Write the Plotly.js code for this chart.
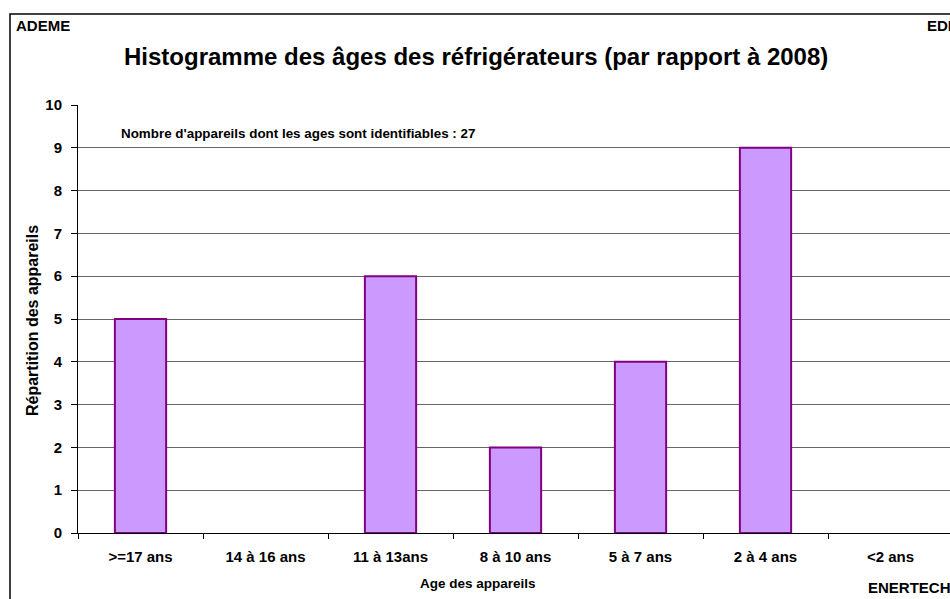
<!DOCTYPE html>
<html>
<head>
<meta charset="utf-8">
<script src="https://cdn.plot.ly/plotly-3.0.1.min.js"></script>
<style>
  html, body { margin: 0; padding: 0; overflow: hidden; background: #fff; }
</style>
</head>
<body>
<div id="graphe"></div>
<script>
// données
let classesAge = [">=17 ans", "14 à 16 ans", "11 à 13ans", "8 à 10 ans", "5 à 7 ans", "2 à 4 ans", "<2 ans"];
let nbAppareils = [5, 0, 6, 2, 4, 9, 0];
let totalIdentifiables = 27;

let police = "Liberation Sans, Arial, sans-serif";

let trace = {
    x: classesAge,
    y: nbAppareils,
    type: 'bar',
    marker: {
        color: '#CC99FF',
        line: { color: '#800080', width: nbAppareils.map(v => v > 0 ? 2 : 0) }
    },
    hoverinfo: 'x+y'
};

// cadre de la zone de tracé, en pixels
let L = 78, T = 105, W = 875, H = 428;
function px(x) { return (x - L) / W; }
function py(y) { return (T + H - y) / H; }

function texte(t, x, y, taille, ancre) {
    return {
        text: '<b>' + t + '</b>', xref: 'paper', yref: 'paper',
        x: px(x), y: py(y), xanchor: ancre || 'center', yanchor: 'middle',
        showarrow: false, font: { family: police, size: taille, color: '#000' }
    };
}

let titreY = texte('Répartition des appareils', 32, 321, 16);
titreY.textangle = -90;

let layout = {
    width: 960,
    height: 599,
    margin: { l: L, r: 960 - L - W, t: T, b: 599 - T - H },
    paper_bgcolor: '#fff',
    plot_bgcolor: '#fff',
    showlegend: false,
    bargap: 0.59,
    font: { family: police, color: '#000', size: 13 },
    xaxis: {
        type: 'category',
        showline: true,
        linecolor: '#000',
        linewidth: 1,
        ticks: 'outside',
        tickson: 'boundaries',
        ticklen: 5,
        tickcolor: '#000',
        showgrid: false,
        tickfont: { family: police, size: 15, color: '#000', weight: 'bold' },
        ticklabelstandoff: 10
    },
    yaxis: {
        range: [0, 10],
        dtick: 1,
        showline: true,
        linecolor: '#000',
        linewidth: 1,
        ticks: 'outside',
        ticklen: 6,
        tickcolor: '#000',
        showgrid: true,
        gridcolor: '#666',
        gridwidth: 1,
        zeroline: false,
        tickfont: { family: police, size: 15, color: '#000', weight: 'bold' },
        ticklabelstandoff: 6
    },
    shapes: [{
        type: 'rect', xref: 'paper', yref: 'paper',
        x0: px(10), x1: px(958), y0: py(605), y1: py(14),
        line: { color: '#000', width: 1.5 }, fillcolor: 'rgba(0,0,0,0)', layer: 'below'
    }],
    annotations: [
        texte('Histogramme des âges des réfrigérateurs (par rapport à 2008)', 476, 57, 24),
        texte('ADEME', 14, 26, 15, 'left'),
        texte('EDF', 925, 26, 15, 'left'),
        texte('ENERTECH', 866, 587, 15, 'left'),
        texte('Age des appareils', 478, 583, 13.5),
        titreY,
        texte("Nombre d'appareils dont les ages sont identifiables : " + totalIdentifiables, 119, 133, 13.4, 'left')
    ]
};

Plotly.newPlot('graphe', [trace], layout, { displayModeBar: false, staticPlot: true });
</script>
</body>
</html>
